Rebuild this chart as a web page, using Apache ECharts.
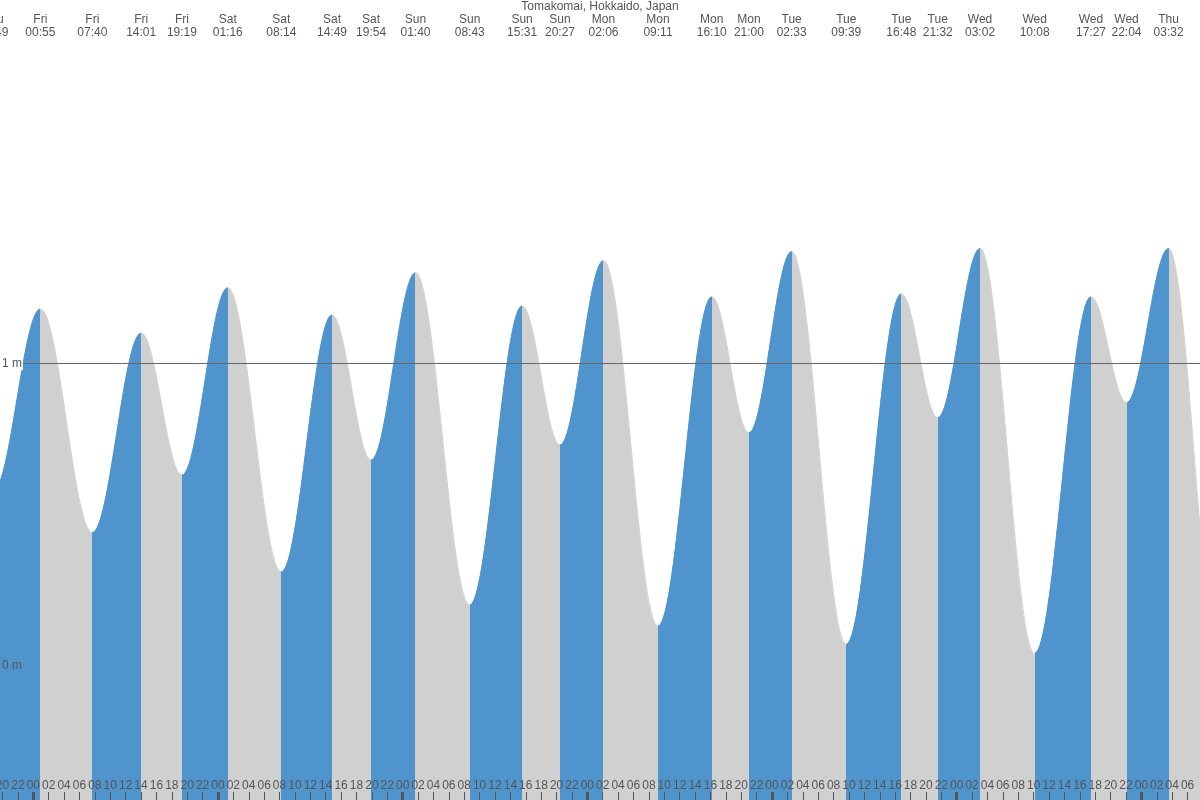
<!DOCTYPE html>
<html><head><meta charset="utf-8">
<script src="https://cdn.jsdelivr.net/npm/echarts@6/dist/echarts.min.js"></script>
<style>html,body{margin:0;padding:0;background:#fff;overflow:hidden;width:1200px;height:800px}
#c{position:absolute;left:-40px;top:0;width:1240px;height:800px}</style>
</head><body><div id="c"></div>
<script>
const chartTitle = 'Tomakomai, Hokkaido, Japan';
const tideDays = ['Thu','Thu','Fri','Fri','Fri','Fri','Sat','Sat','Sat','Sat','Sun','Sun','Sun','Sun','Mon','Mon','Mon','Mon','Tue','Tue','Tue','Tue','Wed','Wed','Wed','Wed','Thu','Thu','Thu'];
const tideTimes = ['12:35','18:49','00:55','07:40','14:01','19:19','01:16','08:14','14:49','19:54','01:40','08:43','15:31','20:27','02:06','09:11','16:10','21:00','02:33','09:39','16:48','21:32','03:02','10:08','17:27','22:04','03:32','10:10','16:50'];
const tideHeights = [1.05,0.58,1.18,0.44,1.10,0.63,1.25,0.31,1.16,0.68,1.30,0.20,1.19,0.73,1.34,0.13,1.22,0.77,1.37,0.07,1.23,0.82,1.38,0.04,1.22,0.87,1.38,0.02,1.20];
const hourTicks = [-8,-6,-4,-2,0,2,4,6,8,10,12,14,16,18,20,22,24,26,28,30,32,34,36,38,40,42,44,46,48,50,52,54,56,58,60,62,64,66,68,70,72,74,76,78,80,82,84,86,88,90,92,94,96,98,100,102,104,106,108,110,112,114,116,118,120,122,124,126,128,130,132,134,136,138,140,142,144,146,148,150];
const midnightTicks = [0,24,48,72,96,120,144];
const levelLabels = [0,1];
const refLevels = [1];

// hours relative to Fri 00:00
let dayIdx = -1, prevDay = tideDays[0];
const tideHours = tideDays.map((d,i)=>{
  if (d !== prevDay) { dayIdx++; prevDay = d; }
  const [h,m] = tideTimes[i].split(':').map(Number);
  return dayIdx*24 + h + m/60;
});
const tideData = tideHours.map((h,i)=>[h, tideHeights[i]]);

const BLUE = '#4f94cd', GREY = '#d0d0d0', TXT = '#555';
const FONT = 'Liberation Sans, Arial, sans-serif';
const pxPerHour = 7.695, originPx = 33.3, shift = 40;
const xMin = -(originPx + shift)/pxPerHour;
const xMax = (1200 - originPx)/pxPerHour;
const pxPerM = 302.2, zeroPx = 665.5;
const yMin = -(800 - zeroPx)/pxPerM, yMax = zeroPx/pxPerM;

const pieces = [];
for (let i = 0; i < tideHours.length - 1; i++) {
  const p = { lte: tideHours[i+1], color: tideHeights[i] < tideHeights[i+1] ? BLUE : GREY };
  if (i === 0) p.gte = tideHours[i]; else p.gt = tideHours[i];
  pieces.push(p);
}

const pad = n => (n < 10 ? '0' : '') + n;
const chart = echarts.init(document.getElementById('c'));
chart.setOption({
  animation: false,
  backgroundColor: '#fff',
  textStyle: { fontFamily: FONT },
  title: { text: chartTitle, left: 600 + shift, textAlign: 'center', top: 0, padding: [1,0,0,0],
    textStyle: { fontSize: 12, fontWeight: 'normal', color: TXT, fontFamily: FONT } },
  grid: [
    { left: 0, right: 0, top: 0, bottom: 0 },
    { left: 0, right: 0, top: 0, bottom: 0 }
  ],
  xAxis: [
    { gridIndex: 0, type: 'value', min: xMin, max: xMax, position: 'bottom', z: 10,
      axisLine: { show: false, onZero: false }, splitLine: { show: false },
      axisTick: { customValues: hourTicks, inside: true, length: 8, lineStyle: { color: TXT, width: 1 } },
      axisLabel: { customValues: hourTicks, inside: true, margin: 8, fontSize: 12, color: TXT, fontFamily: FONT,
        formatter: v => pad(((Math.round(v) % 24) + 24) % 24) } },
    { gridIndex: 0, type: 'value', min: xMin, max: xMax, position: 'top', z: 10,
      axisLine: { show: false, onZero: false }, splitLine: { show: false }, axisTick: { show: false },
      axisLabel: { customValues: tideHours, inside: true, margin: 13, lineHeight: 13, fontSize: 12, color: TXT, fontFamily: FONT,
        formatter: v => { const i = tideHours.findIndex(h => Math.abs(h - v) < 1e-6); return i < 0 ? '' : tideDays[i] + '\n' + tideTimes[i]; } } },
    { gridIndex: 1, type: 'value', min: xMin, max: xMax, position: 'bottom', z: 11,
      axisLine: { show: false, onZero: false }, splitLine: { show: false }, axisLabel: { show: false },
      axisTick: { customValues: midnightTicks, inside: true, length: 8, lineStyle: { color: TXT, width: 3 } } }
  ],
  yAxis: [
    { gridIndex: 0, type: 'value', min: yMin, max: yMax, z: 10,
      axisLine: { show: false, onZero: false }, axisTick: { show: false }, splitLine: { show: false },
      axisLabel: { customValues: levelLabels, inside: true, margin: shift, fontSize: 12, color: TXT, fontFamily: FONT,
        formatter: v => (refLevels.indexOf(v) >= 0 ? '{w|' + v + ' m}' : '{n|' + v + ' m}'),
        rich: { w: { backgroundColor: '#fff', padding: [1, 1, 1, 2], fontSize: 12, color: TXT, fontFamily: FONT },
                n: { padding: [1, 1, 1, 2], fontSize: 12, color: TXT, fontFamily: FONT } } } },
    { gridIndex: 1, type: 'value', min: yMin, max: yMax, show: false }
  ],
  visualMap: { type: 'piecewise', show: false, seriesIndex: 1, dimension: 0, pieces: pieces },
  series: [
    { type: 'line', xAxisIndex: 0, yAxisIndex: 0, data: tideData, z: 1, silent: true,
      showSymbol: false, symbol: 'none', lineStyle: { opacity: 0 },
      markLine: { silent: true, symbol: ['none','none'], label: { show: false },
        lineStyle: { color: '#666', width: 1, type: 'solid' },
        data: refLevels.map(v => ({ yAxis: v })) } },
    { type: 'line', xAxisIndex: 0, yAxisIndex: 0, data: tideData, z: 2, silent: true,
      smooth: 0.36, smoothMonotone: 'x', showSymbol: false, symbol: 'none',
      lineStyle: { width: 1 }, areaStyle: { opacity: 1, origin: 'start' } }
  ]
});
</script></body></html>
